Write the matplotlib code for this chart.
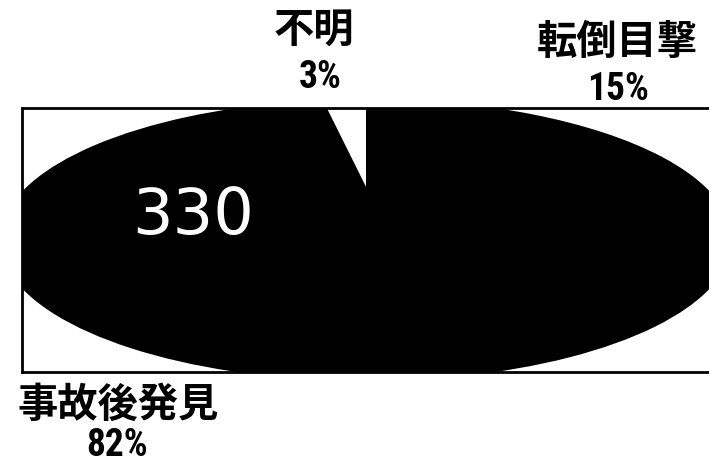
import matplotlib
matplotlib.use("Agg")
import matplotlib.pyplot as plt
from matplotlib.patches import Wedge
from matplotlib import font_manager
from matplotlib.font_manager import FontProperties

# Breakdown of how the 330 cases were discovered
labels = ["不明", "事故後発見", "転倒目撃"]
percents = [3, 82, 15]
total_cases = 330

W, H = 709, 470
fig = plt.figure(figsize=(W / 100, H / 100), dpi=100)
fig.patch.set_facecolor("white")


def _is_bold(entry):
    wt = entry.weight
    if isinstance(wt, str):
        return "bold" in wt.lower() or wt.lower() in ("heavy", "black")
    return wt >= 600


def _is_condensed(entry):
    st = entry.stretch
    if isinstance(st, str):
        return "condensed" in st.lower()
    return st < 500


def narrow_bold_font():
    """Find a bold condensed sans for the percentage figures."""
    entries = font_manager.fontManager.ttflist
    prefs = ["Liberation Sans Narrow", "Roboto Condensed", "Open Sans Condensed",
             "DejaVu Sans Condensed", "Noto Sans", "DejaVu Sans", "Open Sans", "Roboto"]
    for name in prefs:
        for e in entries:
            if e.name == name and _is_bold(e) and e.style == "normal" and \
                    (_is_condensed(e) or "Narrow" in name or "Condensed" in name
                     or "Condensed" in e.fname or "Narrow" in e.fname):
                return FontProperties(fname=e.fname)
    return FontProperties(family="DejaVu Sans", weight="bold")


num_fp = narrow_bold_font()
jp_font = ["Noto Sans CJK JP", "DejaVu Sans"]


def px(x, y):
    """Pixel position (from top-left) to figure fraction."""
    return x / W, 1 - y / H


# Framed plot area; the squashed pie overflows it and is clipped by the frame
left, top, right, bottom = 22, 108, 712, 372
ax = fig.add_axes([left / W, 1 - bottom / H, (right - left) / W, (bottom - top) / H])

wedges, _ = ax.pie(percents, colors=["black"] * len(percents), startangle=90,
                   counterclock=True,
                   wedgeprops=dict(linewidth=1.5, edgecolor="black"))
for wg in wedges:
    wg.set_clip_on(True)
    wg.set_clip_path(ax.patch)

# The "unknown" slice shows as a white notch pushed up from the centre
w = wedges[0]
cx, cy = w.center
notch = Wedge((cx, cy + 0.38), w.r, w.theta1, w.theta2, facecolor="white",
              edgecolor="none", zorder=5)
ax.add_patch(notch)
notch.set_clip_path(ax.patch)

cx_px, cy_px, rx_px, ry_px = 366, 240, 365, 140
ax.set_aspect("auto")
ax.set_xlim((left - cx_px) / rx_px, (right - cx_px) / rx_px)
ax.set_ylim((cy_px - bottom) / ry_px, (cy_px - top) / ry_px)
ax.set_frame_on(True)
for s in ax.spines.values():
    s.set_linewidth(2)
    s.set_color("black")
    s.set_zorder(10)
ax.set_xticks([])
ax.set_yticks([])

# Total in the middle of the pie
fig.text(*px(193, 216), str(total_cases), color="white", fontsize=46,
         family="DejaVu Sans", ha="center", va="center")

# Category labels with their shares
label_pos = {
    "不明": ((314, 30), (320, 77)),
    "転倒目撃": ((617, 42), (618, 89)),
    "事故後発見": ((118, 405), (117, 446)),
}
for name, pct in zip(labels, percents):
    (lx, ly), (qx, qy) = label_pos[name]
    fig.text(*px(lx, ly), name, fontsize=29, fontweight="bold", family=jp_font,
             ha="center", va="center")
    fig.text(*px(qx, qy), f"{pct}%", fontproperties=num_fp, fontsize=27,
             ha="center", va="center")

fig.savefig("out.png", dpi=100)
